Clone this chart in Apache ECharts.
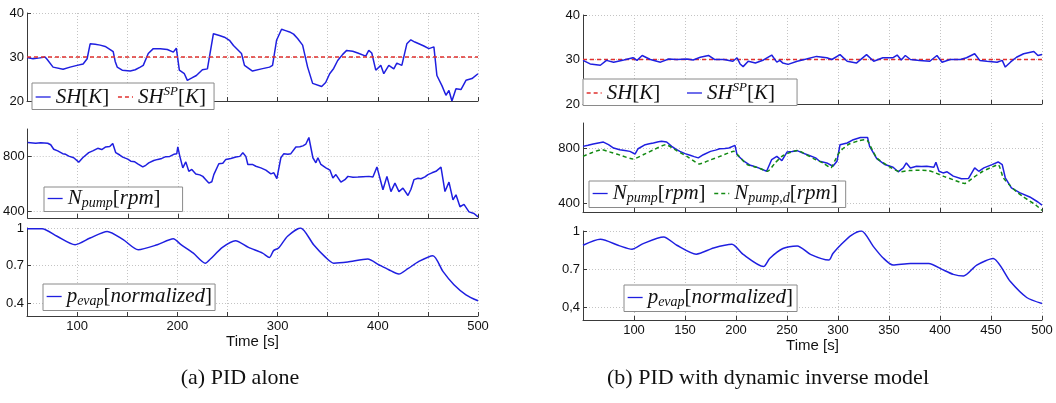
<!DOCTYPE html>
<html><head><meta charset="utf-8">
<script src="https://cdn.jsdelivr.net/npm/echarts@6/dist/echarts.min.js"></script>
<style>html,body{margin:0;padding:0;background:#fff}#c{width:1056px;height:403px}</style>
</head><body><div id="c"></div>
<script>
// ---------- DATA ----------
// (a) PID alone
const tShA = [50,56,63,68,70,76,86,93,100,106,110,113,118,123,128,133,136,138,140,145,153,158,163,166,171,176,183,190,196,199,202,207,210,215,219,225,230,236,242,247,252,256,260,264,267,275,284,292,295,299,304,308,312,316,320,325,330,335,344,348,352,356,360,365,369,375,380,388,391,394,398,403,406,411,416,419,424,429,433,437,441,446,451,456,459,464,468,471,474,478,483,488,494,500];
const shA  = [29.9,29.6,29.8,30.0,29.5,27.7,27.2,27.7,28.1,28.4,29.6,33.0,32.9,32.7,32.4,31.7,31.2,29.0,27.7,27.0,26.8,27.1,27.7,28.1,30.8,31.9,31.9,31.7,31.1,32.0,27.0,26.2,24.7,25.3,25.8,27.1,27.3,35.3,34.9,34.5,33.8,32.6,31.7,30.8,28.1,26.8,27.3,27.7,28.1,33.8,36.3,36.0,35.7,35.2,34.2,32.7,27.7,24.0,23.3,24.2,26.2,27.4,29.2,30.6,31.5,31.3,30.9,30.2,31.5,30.9,27.0,28.1,26.2,28.1,27.3,28.6,28.1,33.0,33.9,33.4,33.0,32.5,31.9,32.3,25.8,23.5,21.3,22.4,20.0,22.8,22.6,24.7,25.1,26.2];
const tSpA = [50,500];
const spA  = [30,30];

const tNA = [50,58,63,70,73,76,80,85,88,91,96,101,105,111,115,120,124,128,132,135,138,142,145,150,153,157,160,165,168,171,176,180,184,188,192,196,199,200,202,205,208,211,214,218,222,225,228,231,234,236,241,245,248,253,258,262,265,268,270,275,278,283,288,293,296,299,303,306,310,313,318,322,325,328,331,335,338,340,343,348,352,355,358,363,367,370,375,380,385,391,395,399,402,405,409,413,417,421,425,430,433,436,440,443,447,450,454,458,463,467,471,475,478,482,486,491,496,500];
const nA  = [901,896,900,896,885,852,840,820,815,802,790,758,790,827,840,859,850,869,872,894,827,810,795,780,765,760,746,723,735,753,770,778,785,798,800,815,820,869,802,716,760,691,705,672,665,654,630,605,615,667,746,750,778,785,795,800,827,800,741,740,728,716,700,672,680,637,790,820,815,820,869,870,877,890,938,790,753,790,741,716,700,642,667,612,630,654,648,649,652,654,650,723,640,556,654,543,605,543,568,514,560,630,640,637,650,667,680,691,721,543,612,482,519,432,449,395,383,358];

const tPA = [50,65,80,98,113,130,146,161,180,196,203,216,228,233,245,258,271,285,292,296,301,310,323,336,348,356,370,390,401,411,421,430,441,455,465,476,488,500];
const pA  = [0.995,0.995,0.934,0.867,0.92,0.973,0.907,0.827,0.867,0.915,0.872,0.80,0.72,0.753,0.846,0.899,0.846,0.80,0.766,0.82,0.841,0.934,1.0,0.867,0.766,0.72,0.729,0.753,0.708,0.668,0.634,0.676,0.734,0.78,0.655,0.549,0.469,0.421];

// (b) PID with dynamic inverse model
const tShB = [50,57,67,73,80,90,99,103,108,116,126,134,142,152,158,165,173,179,188,197,201,204,207,212,219,227,235,240,243,246,251,260,269,279,289,294,302,309,318,328,335,344,354,358,362,366,371,380,390,397,402,410,420,426,434,439,446,456,461,464,469,475,482,492,496,500];
const shB  = [29.8,29.0,28.7,29.8,29.4,29.9,30.4,29.8,30.9,30.0,29.4,30.1,30.0,30.1,29.9,30.5,30.9,30.0,30.0,29.6,30.4,29.0,28.4,29.6,29.2,29.9,31.0,29.4,29.8,29.2,28.9,29.6,30.1,30.7,30.4,30.0,31.1,29.6,29.2,31.1,29.6,30.4,30.4,31.0,29.9,30.9,30.0,29.8,29.6,30.9,29.4,30.0,30.0,30.4,31.3,29.8,29.6,29.4,29.8,28.3,29.4,30.5,31.3,31.8,30.9,31.1];
const tSpB = [50,500];
const spB  = [30,30];

const tNB = [50,55,60,65,70,75,80,86,91,96,101,104,111,115,119,124,127,132,137,141,145,150,155,159,163,168,175,180,184,189,193,199,201,207,214,219,224,230,235,240,245,250,255,260,265,270,278,282,289,295,299,302,309,315,322,329,331,338,346,354,359,364,367,371,377,382,387,394,396,399,403,407,413,421,428,434,438,443,451,457,461,464,470,478,488,496,500];
const nB  = [812,820,829,836,843,824,800,788,782,776,757,795,824,830,836,845,848,843,812,792,776,760,748,738,729,752,776,785,795,797,800,819,752,710,676,665,652,633,717,740,710,771,775,781,765,752,729,705,693,669,705,824,836,860,876,876,812,724,681,662,629,657,693,657,669,668,669,662,698,633,621,629,598,579,581,657,633,657,681,700,681,586,514,479,448,412,390];
const tNdB = [50,59,68,78,88,99,110,120,131,142,153,164,175,186,198,203,211,221,231,238,245,252,260,269,278,286,293,297,302,311,320,326,329,338,349,361,370,380,389,396,403,413,424,433,442,450,457,462,468,475,482,488,494,500];
const ndB  = [740,768,788,768,745,721,755,790,824,780,735,686,715,745,776,740,681,660,633,690,740,765,783,752,717,690,657,710,776,829,851,860,852,729,672,629,638,640,638,620,598,572,545,590,633,660,681,586,536,486,448,419,390,352];

const tPB = [50,67,86,98,109,129,142,161,178,196,207,227,233,246,260,273,291,295,304,313,323,335,344,354,371,389,402,413,423,436,452,469,485,500];
const pB  = [0.888,0.935,0.883,0.857,0.901,0.953,0.888,0.818,0.867,0.896,0.816,0.72,0.784,0.862,0.883,0.816,0.771,0.823,0.901,0.966,1.0,0.875,0.79,0.732,0.745,0.745,0.698,0.659,0.646,0.732,0.784,0.602,0.477,0.430];

// tick labels
const xTicksA = [100,200,300,400,500];
const xTicksB = [100,150,200,250,300,350,400,450,500];
const yTicksSH = [20,30,40];
const yTicksN = [400,800];
const yTicksP = [0.4,0.7,1];
const yLabelsPB = {0.4:'0,4',0.7:'0.7',1:'1'};

// ---------- CHART ----------
const zip = (t, v) => t.map((x, i) => [x, v[i]]);
const BLUE = '#1f1fe0', RED = '#e0302e', GREEN = '#138a13';
const AX = '#3a3a3a', GRIDC = '#c4c4c4';

const grids = [
  {left:27, top:13, width:451, height:88},
  {left:27, top:129, width:451, height:89},
  {left:27, top:228, width:451, height:88},
  {left:583, top:15, width:459, height:89},
  {left:583, top:123, width:459, height:89},
  {left:583, top:231, width:459, height:89}
];

function xAx(g, ticks, name, gap) {
  return {
    type:'value', gridIndex:g, min:50, max:500, interval:50,
    axisLine:{show:true, onZero:false, lineStyle:{color:AX, width:1}},
    axisTick:{show:true, inside:true, length:4, lineStyle:{color:AX}},
    axisLabel:{show:!!ticks, margin:4, fontFamily:'Liberation Sans', fontSize:13, color:'#111',
      formatter: v => (ticks && ticks.indexOf(v) >= 0) ? String(v) : ''},
    splitLine:{show:true, lineStyle:{color:GRIDC, type:[1,2], width:1}},
    name: name || '', nameLocation:'middle', nameGap: gap || 0,
    nameTextStyle:{fontFamily:'Liberation Sans', fontSize:15, color:'#111'}
  };
}
function yAx(g, min, max, ticks, fmt) {
  return {
    type:'value', gridIndex:g, min:min, max:max,
    axisLine:{show:true, onZero:false, lineStyle:{color:AX, width:1}},
    axisTick:{show:true, inside:true, length:4, customValues:ticks, lineStyle:{color:AX}},
    axisLabel:{customValues:ticks, margin:3, fontFamily:'Liberation Sans', fontSize:13, color:'#111',
      formatter: fmt || (v => String(v))},
    splitLine:{show:true, lineStyle:{color:GRIDC, type:[1,2], width:1}}
  };
}

const xAxes = [
  xAx(0), xAx(1), xAx(2, xTicksA, 'Time [s]', 14),
  xAx(3), xAx(4), xAx(5, xTicksB, 'Time [s]', 17)
];
const yAxes = [
  yAx(0, 20, 40, yTicksSH), yAx(1, 350, 1000, yTicksN), yAx(2, 0.3, 1.0, yTicksP),
  yAx(3, 20, 40, yTicksSH), yAx(4, 340, 980, yTicksN), yAx(5, 0.3, 1.0, yTicksP, v => yLabelsPB[v] || String(v))
];

function line(name, idx, data, color, dashed, smooth) {
  return {
    name:name, type:'line', xAxisIndex:idx, yAxisIndex:idx, data:data,
    symbol:'none', showSymbol:false, smooth: smooth || false, animation:false,
    lineStyle:{color:color, width:1.5, type: dashed ? [4,3] : 'solid'},
    itemStyle:{color:color}
  };
}
const series = [
  line('SH_a', 0, zip(tShA, shA), BLUE, false),
  line('SHSP_a', 0, zip(tSpA, spA), RED, true),
  line('N_a', 1, zip(tNA, nA), BLUE, false),
  line('P_a', 2, zip(tPA, pA), BLUE, false, 0.25),
  line('SH_b', 3, zip(tSpB, spB), RED, true),
  line('SHSP_b', 3, zip(tShB, shB), BLUE, false),
  line('N_b', 4, zip(tNB, nB), BLUE, false),
  line('Nd_b', 4, zip(tNdB, ndB), GREEN, true, 0.2),
  line('P_b', 5, zip(tPB, pB), BLUE, false, 0.25)
];

const LBL = {
  SH_a:'{i|SH}{r|[}{i|K}{r|]}', SHSP_a:'{i|SH}{sup|SP}{r|[}{i|K}{r|]}',
  N_a:'{i|N}{sub|pump}{r|[}{i|rpm}{r|]}', P_a:'{i|p}{sub|evap}{r|[}{i|normalized}{r|]}',
  SH_b:'{i|SH}{r|[}{i|K}{r|]}', SHSP_b:'{i|SH}{sup|SP}{r|[}{i|K}{r|]}',
  N_b:'{i|N}{sub|pump}{r|[}{i|rpm}{r|]}', Nd_b:'{i|N}{sub|pump,d}{r|[}{i|rpm}{r|]}',
  P_b:'{i|p}{sub|evap}{r|[}{i|normalized}{r|]}'
};
const F = 'Liberation Serif';
const RICH = {
  i:{fontFamily:F, fontStyle:'italic', fontSize:21, lineHeight:24, color:'#111'},
  r:{fontFamily:F, fontSize:21, lineHeight:24, color:'#111'},
  sup:{fontFamily:F, fontStyle:'italic', fontSize:13, lineHeight:12, verticalAlign:'top', color:'#111'},
  sub:{fontFamily:F, fontStyle:'italic', fontSize:14, lineHeight:11, verticalAlign:'bottom', color:'#111'}
};
function leg(names, left, top, pad, gap) {
  return {
    data:names, left:left, top:top, orient:'horizontal', selectedMode:false,
    itemWidth:15, itemHeight:12, itemGap: gap || 8, padding:pad || [2,8,2,3],
    borderColor:'#8a8a8a', borderWidth:1, borderRadius:0, backgroundColor:'#fff',
    itemStyle:{opacity:0}, lineStyle:{width:1.3},
    formatter: n => LBL[n], textStyle:{rich:RICH}, z:10
  };
}
const legends = [
  leg(['SH_a','SHSP_a'], 32, 83),
  leg(['N_a'], 44, 187, [1,22,1,3]),
  leg(['P_a'], 43, 284, [2,3,2,3]),
  leg(['SH_b','SHSP_b'], 583, 79, [2,22,2,3], 26),
  leg(['N_b','Nd_b'], 589, 181),
  leg(['P_b'], 624, 285, [2,4,2,3])
];

const chart = echarts.init(document.getElementById('c'), null, {renderer:'canvas'});
chart.setOption({
  animation:false,
  backgroundColor:'#fff',
  grid:grids, xAxis:xAxes, yAxis:yAxes, series:series, legend:legends,
  graphic:[
    {type:'text', x:240, y:378, style:{text:'(a) PID alone', fontFamily:F, fontSize:22, fill:'#111', align:'center', verticalAlign:'middle'}},
    {type:'text', x:768, y:378, style:{text:'(b) PID with dynamic inverse model', fontFamily:F, fontSize:22, fill:'#111', align:'center', verticalAlign:'middle'}}
  ]
});
</script>
</body></html>
